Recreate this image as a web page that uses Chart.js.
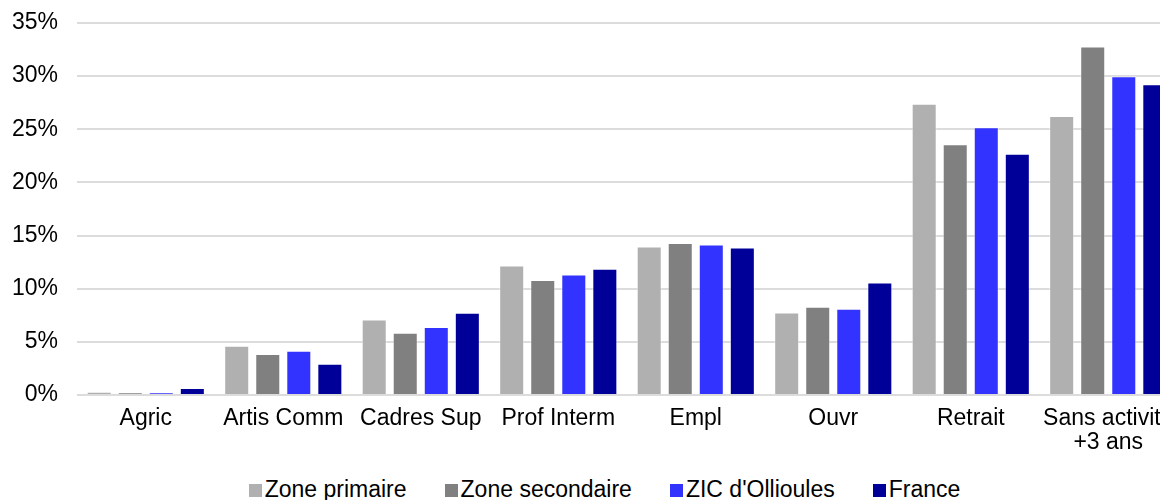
<!DOCTYPE html>
<html>
<head>
<meta charset="utf-8">
<script src="https://cdn.jsdelivr.net/npm/chart.js@4.4.1/dist/chart.umd.min.js"></script>
<style>
  html, body { margin: 0; padding: 0; background: #fff; overflow: hidden; }
  #wrap { position: absolute; left: 0; top: 0; width: 1210px; height: 466px; }
  #legend { position: absolute; left: 0; top: 478px; width: 1209px; display: flex; justify-content: center;
            font-family: 'Liberation Sans', Helvetica, Arial, sans-serif; font-size: 23px; line-height: 23px; color: #000; }
  #legend .item { display: flex; align-items: center; margin: 0 19px; white-space: nowrap; }
  #legend .box { width: 13px; height: 13px; margin-right: 3px; margin-top: 2px; }
</style>
</head>
<body>
<div id="wrap"><canvas id="mycanvas"></canvas></div>
<div id="legend"></div>
<script>
var categories = ['Agric', 'Artis Comm', 'Cadres Sup', 'Prof Interm', 'Empl', 'Ouvr', 'Retrait', ['Sans activité', '+3 ans']];
var zonePrimaire   = [0.31, 4.64, 7.11, 12.19, 13.98, 7.77, 27.4, 26.25];
var zoneSecondaire = [0.25, 3.86, 5.86, 10.82, 14.3, 8.3, 23.6, 32.8];
var zicOllioules   = [0.25, 4.17, 6.4, 11.35, 14.17, 8.12, 25.2, 30.0];
var france         = [0.66, 2.94, 7.74, 11.88, 13.89, 10.6, 22.7, 29.25];
var yTicks = [0, 5, 10, 15, 20, 25, 30, 35];

Chart.defaults.font.family = "'Liberation Sans', Helvetica, Arial, sans-serif";
Chart.defaults.font.size = 23;
Chart.defaults.color = '#000';

function ds(label, data, color) {
    return {
        label: label,
        data: data,
        backgroundColor: color,
        borderColor: 'rgba(255,255,255,0.45)',
        borderWidth: 1,
        categoryPercentage: 0.903,
        barPercentage: 0.806
    };
}

var chartdata = {
    labels: categories,
    datasets: [
        ds('Zone primaire', zonePrimaire, '#b0b0b0'),
        ds('Zone secondaire', zoneSecondaire, '#808080'),
        ds("ZIC d'Ollioules", zicOllioules, '#3333ff'),
        ds('France', france, '#000099')
    ]
};

var ctx = document.getElementById('mycanvas');
var BarGraph = new Chart(ctx, {
    type: 'bar',
    data: chartdata,
    options: {
        responsive: true,
        maintainAspectRatio: false,
        animation: false,
        layout: { padding: { left: 12, right: 33, top: 23, bottom: 0 } },
        plugins: {
            tooltip: { enabled: false },
            legend: { display: false }
        },
        scales: {
            x: {
                grid: { display: false, drawTicks: false },
                border: { display: false },
                ticks: {
                    autoSkip: false,
                    maxRotation: 0,
                    padding: 12,
                    font: { size: 23, lineHeight: 1.02 }
                }
            },
            y: {
                min: 0,
                max: 35,
                afterBuildTicks: function(axis) {
                    axis.ticks = yTicks.map(function(v) { return { value: v }; });
                },
                grid: { color: '#dcdcdc', lineWidth: 2, drawTicks: true, tickLength: 19, tickColor: 'rgba(0,0,0,0)' },
                border: { display: false },
                ticks: {
                    padding: 0,
                    font: { size: 23 },
                    callback: function(v) { return v + '%'; }
                }
            }
        }
    }
});

// legend built from the chart's datasets
var legendEl = document.getElementById('legend');
BarGraph.data.datasets.forEach(function(d) {
    var item = document.createElement('span');
    item.className = 'item';
    var box = document.createElement('span');
    box.className = 'box';
    box.style.background = d.backgroundColor;
    item.appendChild(box);
    item.appendChild(document.createTextNode(d.label));
    legendEl.appendChild(item);
});
</script>
</body>
</html>
